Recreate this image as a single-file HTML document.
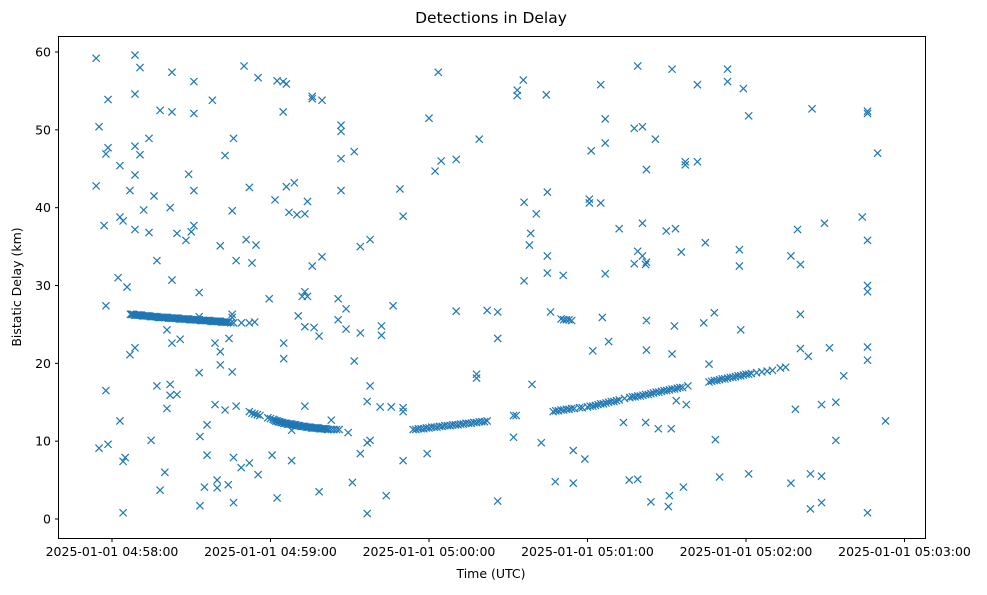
<!DOCTYPE html>
<html><head><meta charset="utf-8"><style>
body{margin:0;background:#fff;}
svg text{font-family:"DejaVu Sans","Liberation Sans",sans-serif;fill:#000;}
</style></head><body>
<svg id="chart" width="987" height="590">
<rect x="0" y="0" width="987" height="590" fill="#fff"/>
<text x="491" y="23" font-size="15.5" text-anchor="middle">Detections in Delay</text>
<text x="491" y="578" font-size="12.5" text-anchor="middle">Time (UTC)</text>
<text transform="translate(21,287) rotate(-90)" font-size="12.5" text-anchor="middle">Bistatic Delay (km)</text>
<g id="marks"></g>
<rect x="58.5" y="36.5" width="867" height="502" fill="none" stroke="#000" stroke-width="1"/>
<g id="axes"></g>
</svg>
<script>
// time in seconds after 04:58:00, delay in km
const scatterT = [-6,-6,-4.9,-4.9,-3,-2.3,-2.3,-2.3,-1.5,-1.5,-1.5,2.3,3,3,3,4.2,4.2,4.2,5,5.7,6.8,6.8,8.7,8.7,8.7,8.7,8.7,8.7,10.6,10.6,12,14,14,14.8,15.9,17,17,18.2,18.2,20,20.8,20.8,22,22,22,22.7,22.7,22.7,22.7,24.6,24.6,25.8,28,29,30,31,31,31,31,33,33,33,33.3,33.3,35,36,36,38,39,39,39.8,39.8,41,41,41,42.8,42.8,44,44.3,45.5,45.5,45.5,45.5,46,46,46,47,47,48.9,50,50.8,52,52,53,54.5,55.3,55.3,59.5,60.6,61.7,62.5,62.5,63,64.8,64.8,65,65,66,66,67,69,68,68,70,70.5,72,73,73,73,73,74,74,75.8,75.8,75.8,76.5,78.4,78.4,79.5,79.5,83,85.6,85.6,86.7,86.7,86.7,86.7,88.6,88.6,89.4,91,91.7,91.7,94,94,94,96.6,96.6,96.6,97.7,97.7,97.7,101.5,102,102,103.8,105.7,106.4,109,110.2,110.2,110.2,110.2,
119.3,120,122.3,123.5,124.6,130.3,130.3,138,138,139,142,146,146,146,152,152,153,153.4,153.4,155.7,156,156,158,158.5,159,160.6,162.5,164.4,164.8,164.8,164.8,166,167.8,170.8,174.6,174.6,179,180.7,180.7,181.4,182,185,185,185.6,186.7,186.7,186.7,188,192,193.6,195.8,197.7,197.7,199,199,199,200.8,200.8,200.8,202,202,202.3,202.3,202.3,202.3,204,205.7,206.8,209.8,210.6,211,211.7,212,212,212.9,213.6,213.3,215.5,216.3,217,217,217.4,221.6,221.6,224,224.6,226,228,228.4,230,233,233,237.5,237.5,238,239,241,241,257,257,258.7,259.5,260.6,260.6,260.6,263.6,264.4,264.4,265,268.6,268.6,268.6,269.7,271.6,274,274,277,284,286,286,286,286,286,286,286,286,289.8,292.8];
const scatterD = [59.2,42.8,50.4,9.1,37.7,27.4,16.5,46.9,47.7,53.9,9.6,31,38.8,45.4,12.6,38.3,7.4,0.8,7.9,29.8,42.2,21.1,59.6,54.6,44.2,22,37.2,47.9,58,46.8,39.7,36.8,48.9,10.1,41.5,33.2,17.1,3.7,52.5,6,14.2,24.3,15.9,40,17.3,30.7,22.6,57.4,52.3,36.7,16,23.1,35.8,44.3,36.9,37.7,42.2,52.1,56.2,29.1,18.8,26,1.7,10.6,4.1,8.2,12.1,53.8,14.7,22.6,4,5,35.1,19.8,21.5,46.7,14,4.4,23.2,39.6,25.9,18.9,26.3,48.9,2.1,7.9,14.5,33.2,6.6,58.2,35.9,42.6,7.2,32.9,35.2,56.7,5.7,28.3,8.2,41,56.3,2.7,12.5,56.2,52.3,22.6,20.6,42.7,55.9,39.4,43.2,11.4,7.5,39.1,26.1,28.6,29.2,24.7,14.5,39.2,28.6,40.8,32.5,54.3,54,24.6,3.5,23.5,33.7,53.8,12.7,28.3,25.6,46.3,42.2,49.8,50.6,27,24.4,11.1,4.7,20.3,47.2,35,8.4,23.9,0.7,9.8,15.1,10.1,35.9,17.1,14.4,24.8,23.6,3,14.4,27.4,42.4,13.8,7.5,38.9,14.3,
8.4,51.5,44.7,57.4,46,46.2,26.7,18.6,18.1,48.8,26.8,26.6,23.2,2.3,13.3,10.5,13.3,55.1,54.4,56.4,40.7,30.6,35.2,36.7,17.3,39.2,9.8,54.5,42,33.8,31.6,26.6,4.8,31.3,4.6,8.8,7.7,41.1,40.6,47.3,21.6,55.8,40.6,25.9,51.4,48.3,31.5,22.8,37.3,12.4,5,50.2,32.8,58.2,5.1,34.4,50.4,38,33.8,12.4,32.7,44.9,33,25.5,21.7,2.2,48.8,11.6,37,1.6,3,11.6,21.2,57.8,24.8,15.2,37.3,34.3,4.1,45.5,45.9,14.7,55.8,45.9,25.2,35.5,19.9,26.5,10.2,5.4,56.2,57.8,32.5,34.6,24.3,55.3,51.8,5.8,4.6,33.8,14.1,37.2,21.9,32.7,26.3,20.9,5.8,1.3,52.7,14.7,5.5,2.1,38,22,15,10.1,18.4,38.8,29.2,30,52.4,52.1,35.8,22.1,20.4,0.8,47,12.6];
const trackT = [7,7.5,8,8.5,9,9.5,10,10.5,11,11.5,12,12.5,13,13.5,14,14.5,15,15.5,16,16.5,17,17.5,18,18.5,19,19.5,20,20.5,21,21.5,22,22.5,23,23.5,24,24.5,25,25.5,26,26.5,27,27.5,28,28.5,29,29.5,30,30.5,31,31.5,32,32.5,33,33.5,34,34.5,35,35.5,36,36.5,37,37.5,38,38.5,39,39.5,40,40.5,41,41.5,42,42.5,43,43.5,44,45,46,49,52,54,
52,53,54,55,56,59,60,61,61.5,62,62.5,63,63.5,64,64.5,65,65.5,66,66.5,67,67.5,68,68.5,69,69.5,70,70.5,71,71.5,72,72.5,73,73.5,74,74.5,75,75.5,76,76.5,77,77.5,78,78.5,79,79.5,80,80.5,81,81.5,82,83,84,85,86,
114,115,116,117,118,119,120,121,122,123,124,125,126,127,128,129,130,131,132,133,134,135,136,137,138,139,140,141,142,
167,168,169,170,171,172,173,174,175,177,178,180,181,182,183,184,185,186,187,188,189,190,191,192,194,196,197,198,199,200,201,202,203,204,205,206,207,208,209,210,211,212,213,214,215,216,218,
226,227,228,229,230,231,232,233,234,235,236,237,238,239,240,241,242,244,246,248,250,253,255,
170,171,172,173,174];
const trackD = [26.3,26.3,26.3,26.2,26.2,26.2,26.2,26.2,26.2,26.1,26.1,26.1,26.1,26.1,26.1,26.0,26.0,26.0,26.0,26.0,26.0,25.9,25.9,25.9,25.9,25.9,25.9,25.9,25.9,25.8,25.8,25.8,25.8,25.8,25.8,25.8,25.8,25.7,25.7,25.7,25.7,25.7,25.7,25.7,25.7,25.6,25.6,25.6,25.6,25.6,25.6,25.6,25.6,25.5,25.5,25.5,25.5,25.5,25.5,25.5,25.5,25.4,25.4,25.4,25.4,25.4,25.4,25.4,25.4,25.3,25.3,25.3,25.3,25.3,25.3,25.2,25.2,25.2,25.2,25.3,
13.8,13.6,13.5,13.4,13.3,13.0,12.9,12.8,12.7,12.6,12.6,12.5,12.5,12.4,12.4,12.3,12.3,12.3,12.2,12.2,12.2,12.2,12.1,12.1,12.1,12.0,12.0,12.0,11.9,11.9,11.9,11.9,11.8,11.8,11.8,11.8,11.7,11.7,11.7,11.7,11.7,11.7,11.6,11.6,11.6,11.6,11.6,11.6,11.5,11.5,11.5,11.5,11.5,11.5,
11.5,11.5,11.6,11.6,11.6,11.7,11.7,11.8,11.8,11.8,11.9,11.9,12.0,12.0,12.0,12.1,12.1,12.1,12.2,12.2,12.3,12.3,12.3,12.4,12.4,12.5,12.5,12.5,12.6,
13.8,13.9,13.9,14.0,14.0,14.1,14.1,14.2,14.2,14.3,14.3,14.4,14.5,14.5,14.6,14.7,14.8,14.8,14.9,15.0,15.1,15.1,15.2,15.3,15.5,15.6,15.7,15.7,15.8,15.8,15.9,16.0,16.0,16.1,16.2,16.3,16.3,16.4,16.5,16.5,16.6,16.7,16.7,16.8,16.9,16.9,17.1,
17.6,17.7,17.8,17.8,17.9,18.0,18.0,18.1,18.2,18.2,18.3,18.4,18.4,18.5,18.6,18.6,18.7,18.8,18.9,19.0,19.1,19.4,19.5,
25.7,25.6,25.6,25.6,25.5];
const xTickSeconds = [0,60,120,180,240,300];
const xTickLabels = ["2025-01-01 04:58:00","2025-01-01 04:59:00","2025-01-01 05:00:00","2025-01-01 05:01:00","2025-01-01 05:02:00","2025-01-01 05:03:00"];
const yTicks = [0,10,20,30,40,50,60];

const NS = "http://www.w3.org/2000/svg";
function xScale(t){ return 112 + t*2.6417; }
function yScale(d){ return 519 - d*7.783; }
const marks = document.getElementById('marks');
const axes = document.getElementById('axes');
const allT = scatterT.concat(trackT), allD = scatterD.concat(trackD);
for (let i=0;i<allT.length;i++){
  const cx = xScale(allT[i]), cy = yScale(allD[i]), r = 3.6;
  const p = document.createElementNS(NS,'path');
  p.setAttribute('d',`M${cx-r},${cy-r}L${cx+r},${cy+r}M${cx-r},${cy+r}L${cx+r},${cy-r}`);
  p.setAttribute('stroke','#1f77b4');
  p.setAttribute('stroke-width','1.2');
  p.setAttribute('fill','none');
  
  
  marks.appendChild(p);
}
xTickSeconds.forEach((s,i)=>{
  const x = xScale(s);
  const l = document.createElementNS(NS,'line');
  l.setAttribute('x1',x);l.setAttribute('x2',x);l.setAttribute('y1',538.5);l.setAttribute('y2',542);
  l.setAttribute('stroke','#000');
  
  
  axes.appendChild(l);
  const t = document.createElementNS(NS,'text');
  t.setAttribute('x',x);t.setAttribute('y',556);t.setAttribute('font-size','12.5');t.setAttribute('text-anchor','middle');
  t.textContent = xTickLabels[i];
  
  
  axes.appendChild(t);
});
yTicks.forEach(v=>{
  const y = yScale(v);
  const l = document.createElementNS(NS,'line');
  l.setAttribute('x1',55);l.setAttribute('x2',58.5);l.setAttribute('y1',y);l.setAttribute('y2',y);
  l.setAttribute('stroke','#000');
  
  
  axes.appendChild(l);
  const t = document.createElementNS(NS,'text');
  t.setAttribute('x',51);t.setAttribute('y',y+4.5);t.setAttribute('font-size','12.5');t.setAttribute('text-anchor','end');
  t.textContent = v;
  
  
  axes.appendChild(t);
});
</script>
</body></html>
